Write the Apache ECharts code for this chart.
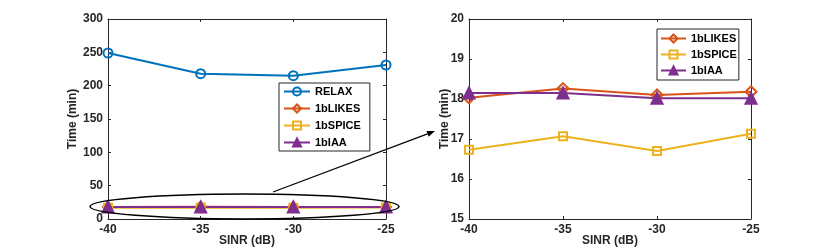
<!DOCTYPE html>
<html><head><meta charset="utf-8">
<script src="https://cdn.jsdelivr.net/npm/echarts@6/dist/echarts.min.js"></script>
<style>html,body{margin:0;padding:0;background:#fff}#c{width:830px;height:249px}</style>
</head><body><div id="c"></div>
<script>
const sinr = [-40, -35, -30, -25];
const relax = [249, 218, 215, 231];
const likes = [18.03, 18.26, 18.1, 18.18];
const spice = [16.73, 17.07, 16.7, 17.13];
const iaa = [18.15, 18.15, 18.02, 18.02];
const leftYTicks = [0, 300, 50];
const rightYTicks = [15, 20, 1];

const C = {relax:'#0072BD', likes:'#D95319', spice:'#EDB120', iaa:'#7E2F8E'};
const FONT = 'Liberation Sans';
const axisCol = '#262626';
const pts = arr => arr.map((v,i)=>[sinr[i], v]);

function xAx(grid, pos, show){
  return {type:'value', gridIndex:grid, position:pos, min:-40, max:-25, interval:5,
    name: show ? 'SINR (dB)' : '', nameLocation:'middle', nameGap:16, nameMoveOverlap:false,
    nameTextStyle:{fontFamily:FONT, fontWeight:'bold', fontSize:12, color:axisCol},
    axisLine:{show:true, onZero:false, lineStyle:{color:axisCol, width:1}},
    axisTick:{show:true, inside:true, length:3, lineStyle:{color:axisCol}},
    axisLabel:{show:show, margin:5, fontFamily:FONT, fontWeight:'bold', fontSize:12, color:axisCol},
    splitLine:{show:false}};
}
function yAx(grid, pos, show, t, gap){
  return {type:'value', gridIndex:grid, position:pos, min:t[0], max:t[1], interval:t[2],
    name: show ? 'Time (min)' : '', nameLocation:'middle', nameGap:gap, nameRotate:90, nameMoveOverlap:false,
    nameTextStyle:{fontFamily:FONT, fontWeight:'bold', fontSize:12, color:axisCol},
    axisLine:{show:true, onZero:false, lineStyle:{color:axisCol, width:1}},
    axisTick:{show:true, inside:true, length:3, lineStyle:{color:axisCol}},
    axisLabel:{show:show, margin:5, fontFamily:FONT, fontWeight:'bold', fontSize:12, color:axisCol},
    splitLine:{show:false}};
}
function ser(name, data, color, symbol, filled, xi, yi, size){
  return {name:name, type:'line', xAxisIndex:xi, yAxisIndex:yi, data:pts(data),
    symbol:symbol, symbolSize:size, showSymbol:true,
    lineStyle:{color:color, width:2},
    itemStyle:{color: filled ? color : 'rgba(255,255,255,0)', borderColor:color, borderWidth:2},
    emphasis:{disabled:true}, animation:false};
}

// arrow geometry (annotation)
const a0=[273,192], a1=[435,131];
const dx=a1[0]-a0[0], dy=a1[1]-a0[1], L=Math.hypot(dx,dy), ux=dx/L, uy=dy/L, px=-uy, py=ux;
const hb=[a1[0]-8*ux, a1[1]-8*uy];

const legText = {fontFamily:FONT, fontWeight:'bold', fontSize:11, color:'#000'};
const chart = echarts.init(document.getElementById('c'), null, {renderer:'canvas'});
chart.setOption({
  animation:false,
  textStyle:{fontFamily:FONT},
  grid:[
    {left:108, top:19, width:278, height:200, show:false, containLabel:false, outerBoundsMode:'none'},
    {left:469, top:19, width:282, height:200, show:false, containLabel:false, outerBoundsMode:'none'}
  ],
  xAxis:[xAx(0,'bottom',true), xAx(0,'top',false), xAx(1,'bottom',true), xAx(1,'top',false)],
  yAxis:[yAx(0,'left',true,leftYTicks,29), yAx(0,'right',false,leftYTicks,0),
         yAx(1,'left',true,rightYTicks,18), yAx(1,'right',false,rightYTicks,0)],
  legend:[
    {left:279, top:83, orient:'vertical', padding:[3,9,3,4], itemGap:6,
     itemWidth:26, itemHeight:10, borderColor:axisCol, borderWidth:1, backgroundColor:'#fff',
     data:['RELAX','1bLIKES','1bSPICE','1bIAA'], selectedMode:false, textStyle:legText},
    {left:657, top:29, orient:'vertical', padding:[4,2,4,3], itemGap:5,
     itemWidth:25, itemHeight:10, borderColor:axisCol, borderWidth:1, backgroundColor:'#fff',
     data:['1bLIKES','1bSPICE','1bIAA'], selectedMode:false, textStyle:legText}
  ],
  series:[
    ser('RELAX', relax, C.relax, 'circle', false, 0, 0, 9),
    ser('1bLIKES', likes, C.likes, 'diamond', false, 0, 0, 10),
    ser('1bSPICE', spice, C.spice, 'rect', false, 0, 0, 8),
    ser('1bIAA', iaa, C.iaa, 'triangle', true, 0, 0, 11),
    ser('1bLIKES', likes, C.likes, 'diamond', false, 2, 2, 11),
    ser('1bSPICE', spice, C.spice, 'rect', false, 2, 2, 8),
    ser('1bIAA', iaa, C.iaa, 'triangle', true, 2, 2, 11)
  ],
  graphic:[
    {type:'ellipse', shape:{cx:244.5, cy:206.5, rx:154.5, ry:12.5}, z:100,
     style:{fill:null, stroke:'#000', lineWidth:1.5}},
    {type:'line', shape:{x1:a0[0], y1:a0[1], x2:hb[0], y2:hb[1]}, z:100,
     style:{stroke:'#000', lineWidth:1.2}},
    {type:'polygon', z:100, shape:{points:[a1,[hb[0]+3*px,hb[1]+3*py],[hb[0]-3*px,hb[1]-3*py]]},
     style:{fill:'#000'}}
  ]
});
</script></body></html>
